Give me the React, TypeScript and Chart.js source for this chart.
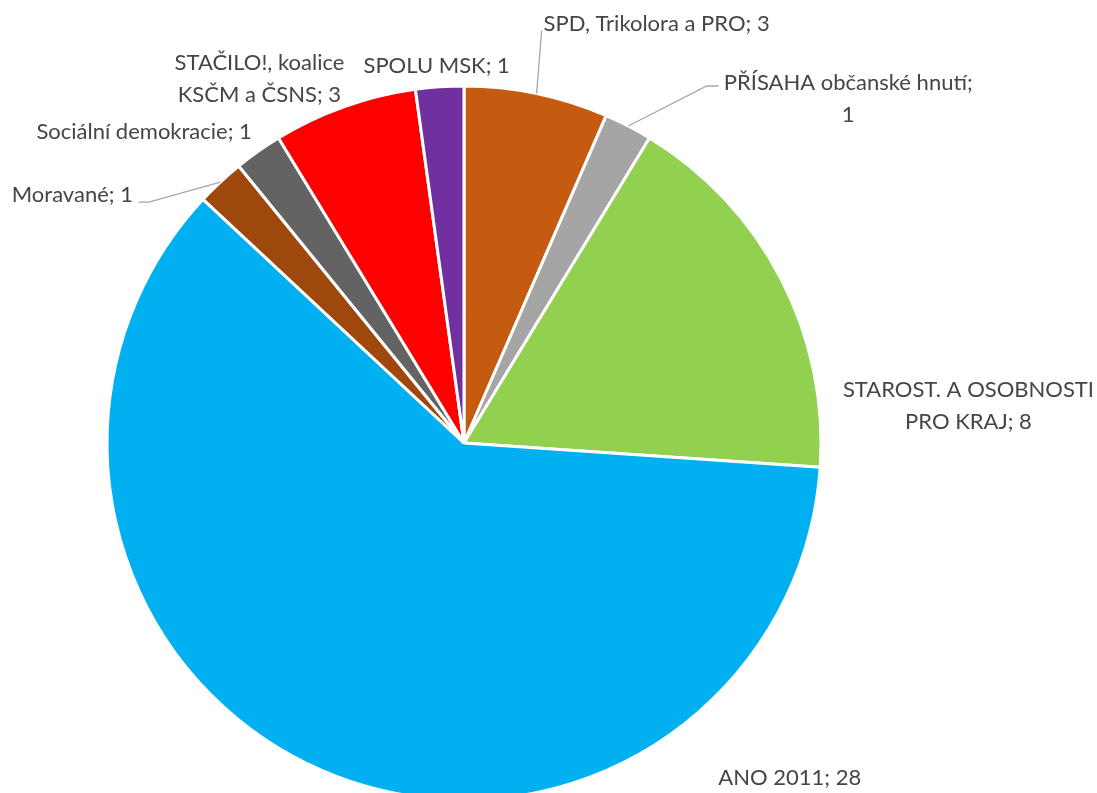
import React, { useEffect, useRef } from "react";
import { Chart, registerables } from "chart.js";

Chart.register(...registerables);

// ---- data ----
const categories: string[] = [
  "SPD, Trikolora a PRO",
  "PŘÍSAHA občanské hnutí",
  "STAROST. A OSOBNOSTI PRO KRAJ",
  "ANO 2011",
  "Moravané",
  "Sociální demokracie",
  "STAČILO!, koalice KSČM a ČSNS",
  "SPOLU MSK",
];
const seats: number[] = [3, 1, 8, 28, 1, 1, 3, 1];
const sliceColors: string[] = [
  "#C55A11",
  "#A5A5A5",
  "#92D050",
  "#00B0F0",
  "#9E480E",
  "#636363",
  "#FF0000",
  "#7030A0",
];

// ---- label layout (offsets from the slice's outer mid point) ----
type Layout = { dx: number; dy: number; wrap: number; leader: "up" | "left" | "right" | null };
const labelLayout: Layout[] = [
  { dx: 120, dy: -70, wrap: 0, leader: "up" },
  { dx: 220, dy: -27, wrap: 3, leader: "left" },
  { dx: 189, dy: 127, wrap: 3, leader: null },
  { dx: 468, dy: 7, wrap: 0, leader: null },
  { dx: -148, dy: 13, wrap: 0, leader: "right" },
  { dx: -114, dy: -19, wrap: 0, leader: null },
  { dx: -85, dy: -28, wrap: 2, leader: null },
  { dx: -3, dy: -21, wrap: 0, leader: null },
];

const FONT_FAMILY = "Lato, 'Open Sans', sans-serif";
const FONT_SIZE = 22;
const LINE_H = 32;
const TEXT_COLOR = "#454545";
const LEADER_COLOR = "#A6A6A6";

const labelPlugin = {
  id: "pieLabels",
  afterDraw(chart: any) {
    const ctx: CanvasRenderingContext2D = chart.ctx;
    const meta = chart.getDatasetMeta(0);
    ctx.save();
    ctx.font = `${FONT_SIZE}px ${FONT_FAMILY}`;
    ctx.fillStyle = TEXT_COLOR;
    ctx.textAlign = "center";
    ctx.textBaseline = "middle";
    meta.data.forEach((arc: any, i: number) => {
      const p = arc.getProps(["x", "y", "startAngle", "endAngle", "outerRadius"], true);
      const mid = (p.startAngle + p.endAngle) / 2;
      const ax = p.x + Math.cos(mid) * p.outerRadius;
      const ay = p.y + Math.sin(mid) * p.outerRadius;
      const lay = labelLayout[i];
      const words = `${categories[i]}; ${seats[i]}`.split(" ");
      const lines =
        lay.wrap > 0
          ? [words.slice(0, lay.wrap).join(" "), words.slice(lay.wrap).join(" ")]
          : [words.join(" ")];
      const n = lines.length;
      const w = Math.max(...lines.map((l) => ctx.measureText(l).width));
      let cx = ax + lay.dx;
      const cy = ay + lay.dy;
      // keep label inside the canvas
      const maxRight = chart.width - 3;
      if (cx + w / 2 > maxRight) cx = maxRight - w / 2;
      const left = cx - w / 2;
      const right = cx + w / 2;
      const firstY = cy - ((n - 1) / 2) * LINE_H;
      lines.forEach((l, k) => ctx.fillText(l, cx, firstY + k * LINE_H));

      if (lay.leader) {
        ctx.beginPath();
        ctx.strokeStyle = LEADER_COLOR;
        ctx.lineWidth = 1.3;
        ctx.moveTo(ax, ay);
        if (lay.leader === "up") {
          ctx.lineTo(left - 2, firstY + 7);
        } else if (lay.leader === "left") {
          ctx.lineTo(left - 17, firstY + 3);
          ctx.lineTo(left - 5, firstY + 3);
        } else {
          ctx.lineTo(right + 16, cy + 7);
          ctx.lineTo(right + 6, cy + 7);
        }
        ctx.stroke();
      }
    });
    ctx.restore();
  },
};

export default function App() {
  const canvasRef = useRef<HTMLCanvasElement | null>(null);

  useEffect(() => {
    if (!canvasRef.current) return;
    const chart = new Chart(canvasRef.current, {
      type: "pie",
      data: {
        labels: categories,
        datasets: [
          {
            data: seats,
            backgroundColor: sliceColors,
            borderColor: "#FFFFFF",
            borderWidth: 3,
          },
        ],
      },
      options: {
        responsive: false,
        animation: false,
        radius: 357,
        layout: { padding: { left: 100, right: 269, top: 80, bottom: 94 } },
        plugins: {
          legend: { display: false },
          tooltip: { enabled: false },
        },
      } as any,
      plugins: [labelPlugin],
    });
    return () => chart.destroy();
  }, []);

  return (
    <div
      style={{
        position: "fixed",
        left: 0,
        top: 0,
        width: 1097,
        height: 793,
        overflow: "hidden",
        background: "#FFFFFF",
      }}
    >
      <canvas ref={canvasRef} width={1097} height={900} style={{ display: "block" }} />
    </div>
  );
}
